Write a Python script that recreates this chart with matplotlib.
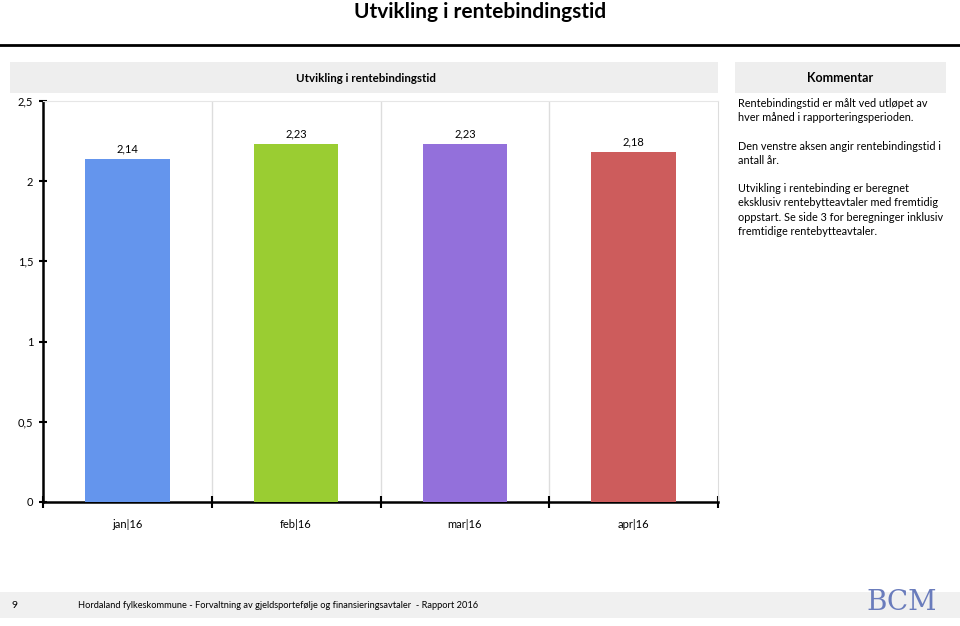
import matplotlib
matplotlib.use("Agg")
import matplotlib.pyplot as plt
from matplotlib.patches import Rectangle
from matplotlib.lines import Line2D
import numpy as np

plt.rcParams['font.family'] = ['Lato', 'DejaVu Sans']

categories = ["jan|16", "feb|16", "mar|16", "apr|16"]
values = [2.14, 2.23, 2.23, 2.18]
value_labels = ["2,14", "2,23", "2,23", "2,18"]
colors = ["#6495ED", "#9ACD32", "#9370DB", "#CD5C5C"]
yticks = [0, 0.5, 1, 1.5, 2, 2.5]
ytick_labels = ["0", "0,5", "1", "1,5", "2", "2,5"]
comment_lines = [
    "Rentebindingstid er målt ved utløpet av",
    "hver måned i rapporteringsperioden.",
    "",
    "Den venstre aksen angir rentebindingstid i",
    "antall år.",
    "",
    "Utvikling i rentebinding er beregnet",
    "eksklusiv rentebytteavtaler med fremtidig",
    "oppstart. Se side 3 for beregninger inklusiv",
    "fremtidige rentebytteavtaler.",
]

W, H = 960, 626
fig = plt.figure(figsize=(9.6, 6.26), dpi=100)

def fx(px):
    return px / W

def fy(py):
    return 1 - py / H

# Page title
fig.text(0.5, fy(12), "Utvikling i rentebindingstid", ha="center", va="center",
         fontsize=15, fontweight="bold")
fig.add_artist(Line2D([0, 1], [fy(45), fy(45)], color="black", lw=2, transform=fig.transFigure))

# Chart title band
fig.add_artist(Rectangle((fx(10), fy(93)), fx(718 - 10), (93 - 62) / H,
                         facecolor="#eeeeee", edgecolor="none", transform=fig.transFigure))
fig.text(fx(366), fy(78), "Utvikling i rentebindingstid", ha="center", va="center",
         fontsize=8.3, fontweight="bold")

# Kommentar band
fig.add_artist(Rectangle((fx(735), fy(93)), fx(946 - 735), (93 - 62) / H,
                         facecolor="#eeeeee", edgecolor="none", transform=fig.transFigure))
fig.text(fx(840), fy(78), "Kommentar", ha="center", va="center", fontsize=9, fontweight="bold")

y0 = 103.5
for i, line in enumerate(comment_lines):
    if line:
        fig.text(fx(738), fy(y0 + i * 14.2), line, ha="left", va="center", fontsize=7.8)

# Footer
fig.add_artist(Rectangle((0, fy(618)), 1, (618 - 592) / H,
                         facecolor="#f0f0f0", edgecolor="none", transform=fig.transFigure))
fig.text(fx(12), fy(605), "9", ha="left", va="center", fontsize=7.5)
fig.text(fx(78), fy(605),
         "Hordaland fylkeskommune - Forvaltning av gjeldsportefølje og finansieringsavtaler  - Rapport 2016",
         ha="left", va="center", fontsize=6.7)
fig.text(fx(902), fy(603), "BCM", ha="center", va="center", fontsize=20,
         family="DejaVu Serif", color="#6a7cbc")

# Axes
ax = fig.add_axes([fx(43), fy(502), fx(718 - 43), (502 - 101) / H])
x = np.arange(len(categories))
bars = ax.bar(x, values, width=0.5, color=colors, zorder=3)
for xi, v, lab in zip(x, values, value_labels):
    ax.text(xi, v + 0.03, lab, ha="center", va="bottom", fontsize=8)

ax.set_xlim(-0.5, len(categories) - 0.5)
ax.set_ylim(0, 2.5)
ax.set_yticks(yticks)
ax.set_yticklabels(ytick_labels, fontsize=8)
ax.set_xticks(x)
ax.set_xticklabels(categories, fontsize=8)
ax.tick_params(axis="x", which="major", length=0, pad=12)
ax.set_xticks(np.arange(-0.5, len(categories), 1), minor=True)
ax.tick_params(axis="x", which="minor", length=8, width=1.5, direction="inout")
ax.tick_params(axis="y", which="major", length=6, width=1.5, direction="inout", pad=4)

for b in np.arange(0.5, len(categories) - 0.5, 1):
    ax.axvline(b, color="#dddddd", lw=1, zorder=1)

ax.spines["left"].set_linewidth(1.8)
ax.spines["bottom"].set_linewidth(1.8)
ax.spines["top"].set_color("#e6e6e6")
ax.spines["right"].set_color("#dddddd")

fig.savefig("out.png", dpi=100)
